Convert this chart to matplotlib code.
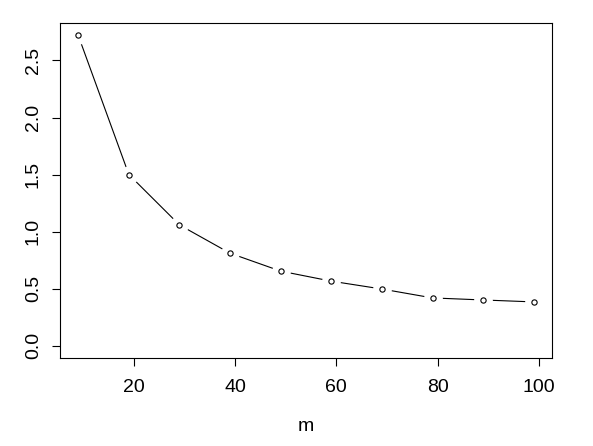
import matplotlib
matplotlib.use('Agg')
import matplotlib.pyplot as plt

plt.rcParams['font.family'] = ['Liberation Sans', 'DejaVu Sans']

m = [9, 19, 29, 39, 49, 59, 69, 79, 89, 99]
vals = [2.72, 1.50, 1.058, 0.81, 0.653, 0.565, 0.496, 0.418, 0.400, 0.383]
xticks = [20, 40, 60, 80, 100]
yticks = [0.0, 0.5, 1.0, 1.5, 2.0, 2.5]

fig = plt.figure(figsize=(5.93, 4.46), dpi=100)
W, H = 593, 446
ax = fig.add_axes([60 / W, 1 - 358 / H, (552 - 60) / W, (358 - 23) / H])

# R type="b": line with gaps around the points
ax.plot(m, vals, color='black', lw=0.8, zorder=1)
ax.plot(m, vals, 'o', ms=13.5, mfc='white', mec='none', zorder=2)
ax.plot(m, vals, 'o', ms=3.8, mfc='white', mec='black', mew=0.8, zorder=3)

xr = max(m) - min(m)
ax.set_xlim(min(m) - 0.04 * xr, max(m) + 0.04 * xr)
yr = max(vals) - 0
ax.set_ylim(0 - 0.04 * yr, max(vals) + 0.04 * yr)

ax.set_xticks(xticks)
ax.set_yticks(yticks)
ax.set_yticklabels(['%.1f' % v for v in yticks], rotation=90, va='center')
ax.tick_params(axis='both', direction='out', length=6, width=0.8,
               labelsize=14, color='black')
ax.tick_params(axis='x', pad=9)
ax.tick_params(axis='y', pad=7)
for s in ax.spines.values():
    s.set_linewidth(0.8)

ax.set_xlabel('m', fontsize=14, labelpad=16)

fig.savefig('out.png', dpi=100)
